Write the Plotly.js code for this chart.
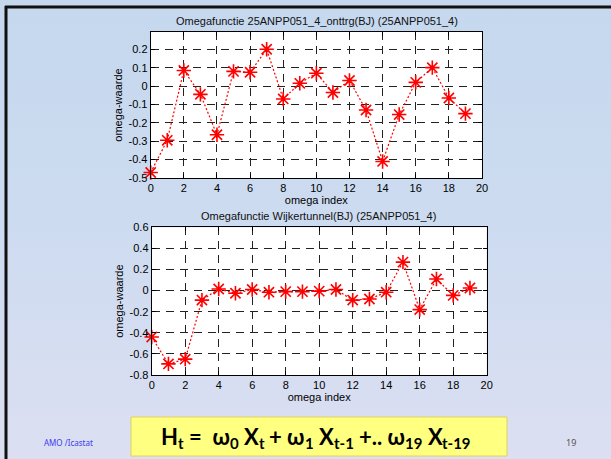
<!DOCTYPE html>
<html>
<head>
<meta charset="utf-8">
<script src="https://cdn.plot.ly/plotly-3.0.1.min.js"></script>
<style>
  html, body { margin: 0; padding: 0; }
  body { width: 611px; height: 459px; overflow: hidden;
         background: linear-gradient(to bottom, #c5d8ee 0%, #ccdbf0 45%, #dcdff2 100%); }
  #chart { width: 611px; height: 459px; }
</style>
</head>
<body>
<div id="chart"></div>
<script>
// ---- data ----
const omegaIndex = [0,1,2,3,4,5,6,7,8,9,10,11,12,13,14,15,16,17,18,19];
const omegaOnttrg = [-0.47,-0.295,0.085,-0.045,-0.265,0.08,0.075,0.2,-0.07,0.015,0.07,-0.035,0.03,-0.13,-0.41,-0.155,0.02,0.1,-0.065,-0.15];
const omegaWijker = [-0.44,-0.695,-0.65,-0.09,0.015,-0.025,0.01,-0.015,-0.01,-0.01,-0.005,0.01,-0.09,-0.08,-0.015,0.27,-0.18,0.11,-0.045,0.025];
const xTicks = [0,2,4,6,8,10,12,14,16,18,20];
const yTicksTop = [-0.5,-0.4,-0.3,-0.2,-0.1,0,0.1,0.2];
const yTickTextTop = ["-0.5","-0.4","-0.3","-0.2","-0.1","0","0.1","0.2"];
const yTicksBottom = [-0.8,-0.6,-0.4,-0.2,0,0.2,0.4,0.6];
const yTickTextBottom = ["-0.8","-0.6","-0.4","-0.2","0","0.2","0.4","0.6"];
const titleTop = "Omegafunctie 25ANPP051_4_onttrg(BJ) (25ANPP051_4)";
const titleBottom = "Omegafunctie Wijkertunnel(BJ) (25ANPP051_4)";
const xLabel = "omega index";
const yLabel = "omega-waarde";
// formula pieces: [text, isSubscript]
const formulaParts = [["H",0],["t",1],[" =  ω",0],["0",1],[" X",0],["t",1],[" + ω",0],["1",1],
                      [" X",0],["t-1",1],[" +.. ω",0],["19",1],[" X",0],["t-19",1]];

// ---- layout helpers ----
const W = 611, H = 459;
const px = x => x / W;
const py = y => 1 - y / H;
const FONT = "Liberation Sans, Arial, sans-serif";
const FFONT = "Lato, Open Sans, sans-serif";
const MAIN_SZ = 22, SUB_SZ = 15;

const traceStyle = {
  mode: "lines+markers",
  line: { color: "#ff0000", dash: "2px,2px", width: 1.2 },
  marker: { symbol: "asterisk-open", size: 12, color: "#ff0000", line: { color: "#ff0000", width: 1.6 } },
  cliponaxis: false,
  hoverinfo: "x+y",
  showlegend: false
};

const traces = [
  Object.assign({ x: omegaIndex, y: omegaOnttrg, xaxis: "x", yaxis: "y" }, traceStyle),
  Object.assign({ x: omegaIndex, y: omegaWijker, xaxis: "x2", yaxis: "y2" }, traceStyle)
];

function xAxis(domain, anchor) {
  return {
    domain: domain, anchor: anchor, range: [0, 20],
    tickmode: "array", tickvals: xTicks,
    ticks: "inside", ticklen: 4, tickcolor: "#000", mirror: "ticks",
    showline: true, linecolor: "#000", linewidth: 1,
    showgrid: true, gridcolor: "#222", gridwidth: 1, griddash: "8px,6px",
    zeroline: false, fixedrange: true,
    tickfont: { family: FONT, size: 11, color: "#000" },
    title: { text: xLabel, font: { family: FONT, size: 11, color: "#000" }, standoff: 1 }
  };
}
function yAxis(domain, anchor, range, vals, text) {
  return {
    domain: domain, anchor: anchor, range: range,
    tickmode: "array", tickvals: vals, ticktext: text,
    ticks: "inside", ticklen: 4, tickcolor: "#000", mirror: "ticks",
    showline: true, linecolor: "#000", linewidth: 1,
    showgrid: true, gridcolor: "#222", gridwidth: 1, griddash: "8px,6px",
    zeroline: false, fixedrange: true,
    tickfont: { family: FONT, size: 11, color: "#000" },
    title: { text: yLabel, font: { family: FONT, size: 11, color: "#000" }, standoff: 3 }
  };
}

// place formula pieces as separate annotations, measured with canvas
const ctx = document.createElement("canvas").getContext("2d");
function measure(t, sz) { ctx.font = "bold " + sz + "px " + FFONT; return ctx.measureText(t).width; }
const formulaAnn = [];
(function () {
  const widths = formulaParts.map(p => measure(p[0], p[1] ? SUB_SZ : MAIN_SZ));
  const total = widths.reduce((a, b) => a + b, 0);
  let x = 314 - total / 2;
  const yMain = 436, ySub = 443;
  formulaParts.forEach((p, i) => {
    const sz = p[1] ? SUB_SZ : MAIN_SZ;
    const lead = p[0].length - p[0].replace(/^\s+/, "").length;
    const offs = lead ? measure(p[0].slice(0, lead), sz) : 0;
    formulaAnn.push({
      text: p[0].trim(), xref: "paper", yref: "paper",
      x: px(x + offs), y: py(p[1] ? ySub : yMain), xanchor: "left", yanchor: "middle",
      showarrow: false, font: { family: FFONT, size: sz, color: "#000", weight: "bold" }
    });
    x += widths[i];
  });
})();

const layout = {
  width: W, height: H,
  margin: { l: 0, r: 0, t: 0, b: 0, pad: 0 },
  paper_bgcolor: "rgba(0,0,0,0)",
  plot_bgcolor: "#ffffff",
  showlegend: false,
  xaxis: xAxis([px(150.7), px(482)], "y"),
  yaxis: yAxis([py(178), py(32)], "x", [-0.5, 0.294], yTicksTop, yTickTextTop),
  xaxis2: xAxis([px(151.7), px(486.7)], "y2"),
  yaxis2: yAxis([py(375), py(227.3)], "x2", [-0.8, 0.6], yTicksBottom, yTickTextBottom),
  shapes: [
    { type: "line", xref: "paper", yref: "paper", x0: px(5), x1: 1, y0: py(7), y1: py(7), line: { color: "#111", width: 3 } },
    { type: "line", xref: "paper", yref: "paper", x0: px(6), x1: px(6), y0: 0, y1: py(6), line: { color: "#111", width: 3 } },
    { type: "rect", xref: "paper", yref: "paper", x0: px(131), x1: px(507), y0: py(456), y1: py(417),
      fillcolor: "#ffff80", line: { color: "#e0d060", width: 1 }, layer: "below" }
  ],
  annotations: [
    { text: titleTop, xref: "paper", yref: "paper", x: px(317), y: py(21), xanchor: "center", yanchor: "middle",
      showarrow: false, font: { family: FONT, size: 11, color: "#111" } },
    { text: titleBottom, xref: "paper", yref: "paper", x: px(318), y: py(216), xanchor: "center", yanchor: "middle",
      showarrow: false, font: { family: FONT, size: 11, color: "#111" } },
    { text: "AMO /Icastat", xref: "paper", yref: "paper", x: px(42), y: py(442), xanchor: "left", yanchor: "middle",
      showarrow: false, font: { family: "Noto Sans, sans-serif", size: 8, color: "#3a3aee" } },
    { text: "19", xref: "paper", yref: "paper", x: px(571), y: py(442), xanchor: "center", yanchor: "middle",
      showarrow: false, font: { family: "Noto Sans, sans-serif", size: 9, color: "#555" } }
  ].concat(formulaAnn)
};

Plotly.newPlot("chart", traces, layout, { displayModeBar: false, staticPlot: true });
</script>
</body>
</html>
